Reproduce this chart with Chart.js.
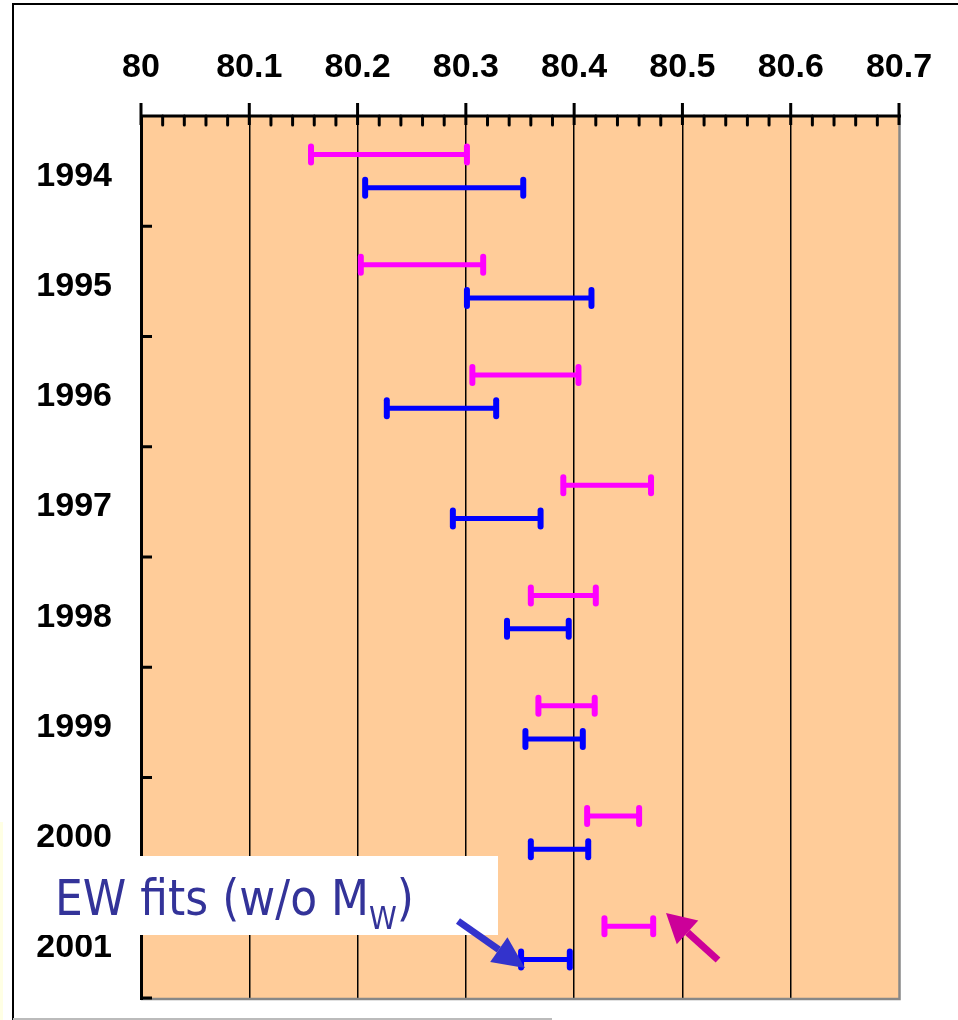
<!DOCTYPE html>
<html lang="en">
<head>
    <meta charset="UTF-8">
    <title>MW fits by year</title>
    <script src="https://cdn.jsdelivr.net/npm/chart.js@4.4.0/dist/chart.umd.min.js"></script>
    <style>
        body { margin: 0; background: #fff; }
    </style>
</head>
<body>
    <canvas id="chart" width="958" height="1020"></canvas>

    <script>
        // years, top to bottom
        const years = ['1994', '1995', '1996', '1997', '1998', '1999', '2000', '2001'];

        // magenta intervals (GeV)
        const pinkLow  = [80.157, 80.203, 80.306, 80.390, 80.360, 80.367, 80.412, 80.428];
        const pinkHigh = [80.301, 80.316, 80.404, 80.471, 80.420, 80.419, 80.460, 80.473];

        // blue intervals: EW fits (w/o MW)
        const blueLow  = [80.207, 80.301, 80.227, 80.288, 80.338, 80.355, 80.360, 80.351];
        const blueHigh = [80.353, 80.416, 80.328, 80.369, 80.395, 80.408, 80.413, 80.396];

        const xTicks = [80, 80.1, 80.2, 80.3, 80.4, 80.5, 80.6, 80.7];
        const xTickLabels = ['80', '80.1', '80.2', '80.3', '80.4', '80.5', '80.6', '80.7'];

        const PINK = '#FF00FF';
        const BLUE = '#0000FF';

        const backgroundPlugin = {
            id: 'background',
            beforeDraw(chart) {
                const { ctx, chartArea: a } = chart;
                ctx.save();
                ctx.fillStyle = '#fff';
                ctx.fillRect(0, 0, chart.width, chart.height);
                ctx.fillStyle = '#FFFFE4';
                ctx.fillRect(0, 822, 3, 198);
                ctx.fillStyle = '#FFCC99';
                ctx.fillRect(a.left, a.top, a.right - a.left, a.bottom - a.top);
                ctx.restore();
            }
        };

        // end caps on the interval bars
        const capsPlugin = {
            id: 'caps',
            afterDatasetsDraw(chart) {
                const ctx = chart.ctx;
                ctx.save();
                ctx.lineWidth = 6;
                ctx.lineCap = 'round';
                chart.data.datasets.forEach((ds, i) => {
                    const meta = chart.getDatasetMeta(i);
                    ctx.strokeStyle = ds.backgroundColor;
                    meta.data.forEach(el => {
                        const { x, base, y } = el.getProps(['x', 'base', 'y'], true);
                        [x, base].forEach(px => {
                            ctx.beginPath();
                            ctx.moveTo(px, y - 8);
                            ctx.lineTo(px, y + 8);
                            ctx.stroke();
                        });
                    });
                });
                ctx.restore();
            }
        };

        function arrow(ctx, x1, y1, x2, y2, color, shaft, headLen, headHalf) {
            const ang = Math.atan2(y2 - y1, x2 - x1);
            const bx = x2 - headLen * Math.cos(ang);
            const by = y2 - headLen * Math.sin(ang);
            ctx.strokeStyle = color;
            ctx.fillStyle = color;
            ctx.lineWidth = shaft;
            ctx.beginPath();
            ctx.moveTo(x1, y1);
            ctx.lineTo(bx, by);
            ctx.stroke();
            ctx.beginPath();
            ctx.moveTo(x2, y2);
            ctx.lineTo(bx + headHalf * Math.sin(ang), by - headHalf * Math.cos(ang));
            ctx.lineTo(bx - headHalf * Math.sin(ang), by + headHalf * Math.cos(ang));
            ctx.closePath();
            ctx.fill();
        }

        const decorPlugin = {
            id: 'decor',
            afterDraw(chart) {
                const { ctx, chartArea: a } = chart;
                const xs = chart.scales.x, ys = chart.scales.y;
                ctx.save();

                // grey right / bottom border
                ctx.strokeStyle = '#888';
                ctx.lineWidth = 2.5;
                ctx.beginPath();
                ctx.moveTo(a.right + 0.5, a.top);
                ctx.lineTo(a.right + 0.5, a.bottom + 1);
                ctx.lineTo(a.left, a.bottom + 1);
                ctx.stroke();

                ctx.strokeStyle = '#000';
                ctx.lineWidth = 3;
                // left axis
                ctx.beginPath();
                ctx.moveTo(a.left + 0.5, a.top);
                ctx.lineTo(a.left + 0.5, a.bottom + 2);
                ctx.stroke();
                // y tick marks at category boundaries (inward)
                for (let i = 1; i <= years.length; i++) {
                    const y = ys.getPixelForValue(i - 0.5);
                    ctx.beginPath();
                    ctx.moveTo(a.left, y);
                    ctx.lineTo(a.left + 11, y);
                    ctx.stroke();
                }
                // top axis
                ctx.beginPath();
                ctx.moveTo(a.left, a.top);
                ctx.lineTo(a.right + 2, a.top);
                ctx.stroke();
                // major ticks
                xTicks.forEach(v => {
                    const x = xs.getPixelForValue(v);
                    ctx.beginPath();
                    ctx.moveTo(x, a.top - 13);
                    ctx.lineTo(x, a.top + 9);
                    ctx.stroke();
                });
                // minor ticks
                ctx.lineCap = 'round';
                for (let i = 0; i < xTicks.length - 1; i++) {
                    for (let k = 1; k < 5; k++) {
                        const x = xs.getPixelForValue(xTicks[i] + k * (xTicks[i + 1] - xTicks[i]) / 5);
                        ctx.beginPath();
                        ctx.moveTo(x, a.top);
                        ctx.lineTo(x, a.top + 9);
                        ctx.stroke();
                    }
                }
                ctx.lineCap = 'butt';

                // outer frame
                ctx.lineWidth = 2;
                ctx.beginPath();
                ctx.moveTo(13, 1020);
                ctx.lineTo(13, 4);
                ctx.lineTo(958, 4);
                ctx.stroke();
                ctx.strokeStyle = '#bbb';
                ctx.beginPath();
                ctx.moveTo(13, 1019);
                ctx.lineTo(552, 1019);
                ctx.stroke();

                // label box
                ctx.fillStyle = '#fff';
                ctx.fillRect(40, 856, 458, 79);
                ctx.fillStyle = '#333399';
                ctx.textBaseline = 'alphabetic';
                ctx.save();
                ctx.translate(55, 915);
                ctx.scale(0.88, 1);
                ctx.font = '50px "DejaVu Sans"';
                const main = 'EW fits (w/o M';
                ctx.fillText(main, 0, 0);
                let w = ctx.measureText(main).width;
                ctx.font = '32px "DejaVu Sans"';
                ctx.fillText('W', w, 14);
                w += ctx.measureText('W').width;
                ctx.font = '50px "DejaVu Sans"';
                ctx.fillText(')', w, 0);
                ctx.restore();

                // arrows
                arrow(ctx, 458, 921, 525, 968, '#3333CC', 7, 32, 15);
                arrow(ctx, 718, 960, 666, 913, '#CC0099', 7, 29, 16);

                ctx.restore();
            }
        };

        new Chart(document.getElementById('chart'), {
            type: 'bar',
            data: {
                labels: years,
                datasets: [
                    {
                        label: 'pink',
                        data: years.map((_, i) => [pinkLow[i], pinkHigh[i]]),
                        backgroundColor: PINK
                    },
                    {
                        label: 'EW fits (w/o MW)',
                        data: years.map((_, i) => [blueLow[i], blueHigh[i]]),
                        backgroundColor: BLUE
                    }
                ]
            },
            options: {
                indexAxis: 'y',
                responsive: false,
                animation: false,
                devicePixelRatio: 1,
                categoryPercentage: 0.6,
                barPercentage: 1,
                maxBarThickness: 5,
                borderSkipped: false,
                layout: { padding: { left: 0, top: 0, right: 59, bottom: 22 } },
                plugins: {
                    legend: { display: false },
                    tooltip: { enabled: false }
                },
                scales: {
                    x: {
                        type: 'linear',
                        position: 'top',
                        min: 80,
                        max: 80.7,
                        afterBuildTicks: s => { s.ticks = xTicks.map(v => ({ value: v })); },
                        afterFit: s => {
                            s.height = 116;
                            s.paddingLeft = 0;
                            s.paddingRight = 0;
                        },
                        border: { display: false },
                        grid: {
                            drawTicks: false,
                            lineWidth: 1.5,
                            color: c => (c.tick && c.tick.value > 80 && c.tick.value < 80.7) ? '#000' : 'rgba(0,0,0,0)'
                        },
                        ticks: {
                            padding: 28,
                            color: '#000',
                            maxRotation: 0,
                            autoSkip: false,
                            font: { family: '"Liberation Sans", Arial, sans-serif', size: 34, weight: 'bold' },
                            callback: (v, i) => xTickLabels[i]
                        }
                    },
                    y: {
                        type: 'category',
                        offset: true,
                        afterFit: s => {
                            s.width = 141;
                            s.paddingTop = 0;
                            s.paddingBottom = 0;
                        },
                        border: { display: false },
                        grid: { display: false, drawTicks: false },
                        ticks: {
                            padding: 29,
                            labelOffset: 5,
                            color: '#000',
                            font: { family: '"Liberation Sans", Arial, sans-serif', size: 34, weight: 'bold' }
                        }
                    }
                }
            },
            plugins: [backgroundPlugin, capsPlugin, decorPlugin]
        });
    </script>
</body>
</html>
